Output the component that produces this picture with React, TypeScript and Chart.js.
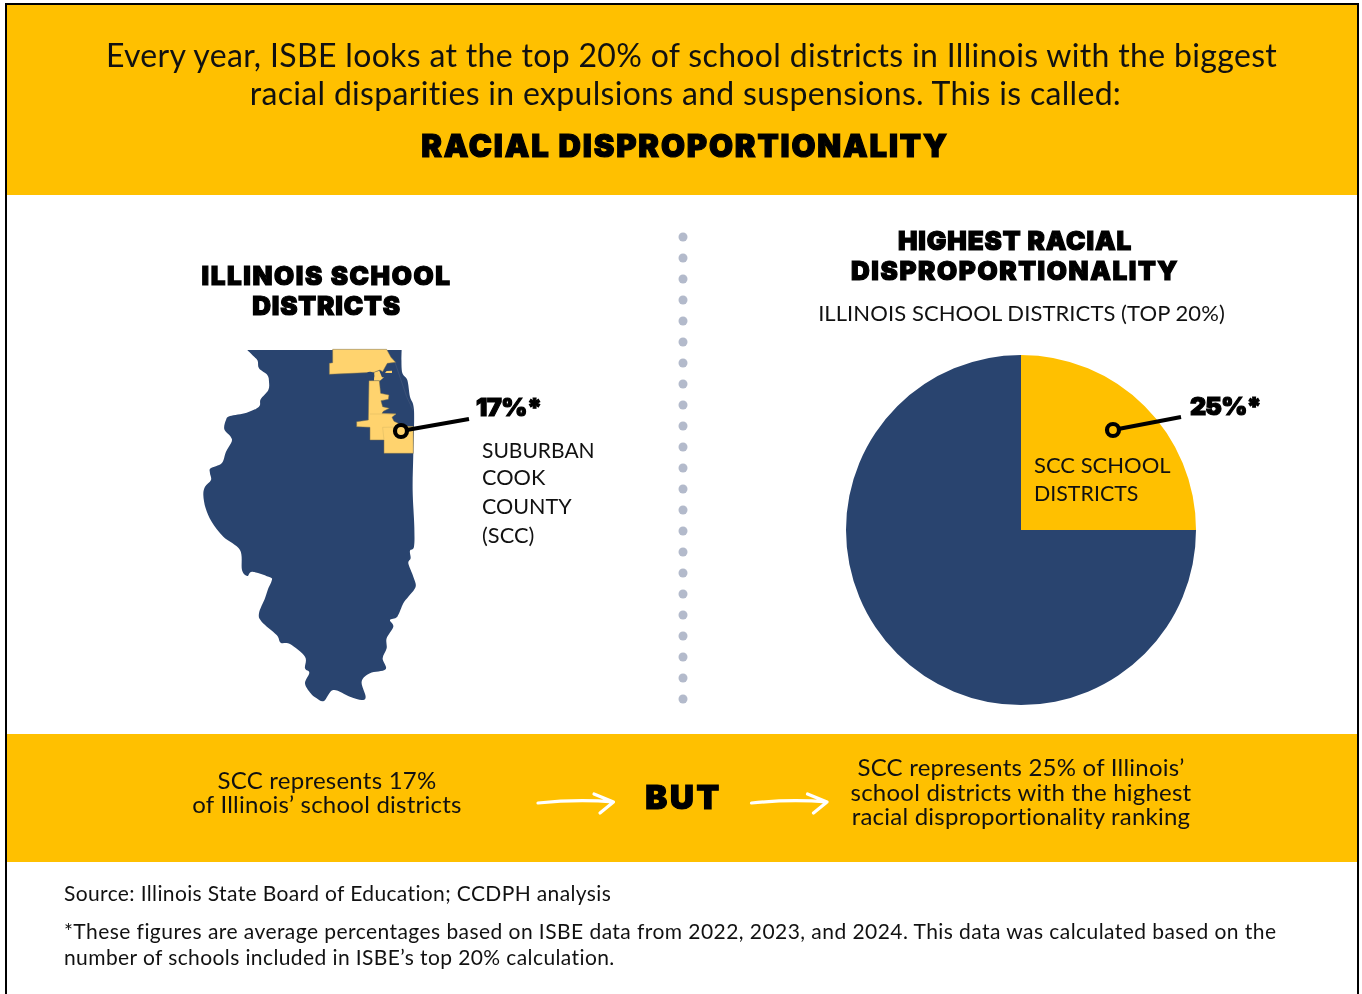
import React, { useEffect, useRef } from "react";
import { Chart, registerables } from "chart.js";

Chart.register(...registerables);

const pieLabels = ["SCC school districts", "Other Illinois school districts"];
const pieValues = [25, 75];
const pieColors = ["#FFC000", "#29446F"];

const NAVY = "#29446F";
const GOLD = "#FFC000";
const SANS = "Lato, sans-serif";
const HEAVY = "Inter, Lato, sans-serif";

const outline: number[][] = [[172,30],[172,30],[190,48],[203,62],[207,85],[232,105],[237,125],[235,150],[212,178],[207,200],[170,218],[120,228],[108,240],[103,268],[122,290],[125,305],[108,335],[95,370],[62,385],[60,400],[63,420],[45,440],[40,465],[47,505],[65,545],[100,590],[150,630],[156,690],[172,708],[187,695],[240,712],[245,722],[235,745],[225,775],[207,820],[215,845],[260,885],[272,908],[300,912],[345,950],[345,985],[358,998],[345,1030],[362,1060],[380,1075],[402,1083],[430,1050],[480,1070],[515,1080],[527,1070],[515,1025],[540,1000],[587,988],[578,955],[590,925],[590,895],[610,860],[600,840],[622,830],[640,790],[655,770],[677,740],[670,710],[655,670],[662,655],[660,632],[672,620],[673,560],[668,450],[670,340],[672,210],[660,170],[652,120],[636,95],[635,30],[635,30]];
const cookNorth: number[][] = [[428,28],[590,28],[603,52],[617,67],[592,70],[584,84],[578,95],[570,90],[552,97],[418,103],[418,70],[428,68]];
const cookMain: number[][] = [[537,122],[552,122],[568,122],[572,160],[597,165],[595,178],[573,182],[578,200],[598,205],[580,214],[576,220],[618,222],[606,232],[612,244],[625,250],[630,258],[670,260],[670,340],[582,340],[582,300],[540,300],[540,262],[500,260],[500,245],[535,240]];
const cookIslet: number[][] = [[590,93],[606,92],[606,99],[585,99]];
const cookIslet2: number[][] = [[553,96],[568,92],[576,112],[582,112],[570,122],[552,122]];

const toPoly = (p: number[][]) => p.map((q) => q.join(",")).join(" ");

const same = (a: number[], b: number[]) => a[0] === b[0] && a[1] === b[1];

function smooth(p: number[][]) {
  const n = p.length;
  const at = (i: number) => p[(i + n) % n];
  let d = `M${p[0][0]},${p[0][1]}`;
  for (let i = 0; i < n; i++) {
    const [p0, p1, p2, p3] = [at(i - 1), at(i), at(i + 1), at(i + 2)];
    const corner1 = same(p0, p1) || same(p1, p2);
    const corner2 = same(p2, p3) || same(p1, p2);
    const c1 = corner1 ? p1 : [p1[0] + (p2[0] - p0[0]) / 6, p1[1] + (p2[1] - p0[1]) / 6];
    const c2 = corner2 ? p2 : [p2[0] - (p3[0] - p1[0]) / 6, p2[1] - (p3[1] - p1[1]) / 6];
    d += `C${c1[0]},${c1[1]} ${c2[0]},${c2[1]} ${p2[0]},${p2[1]}`;
  }
  return d + "Z";
}

function T(props: { x: number; y: number; children: React.ReactNode; align?: "left" | "center"; size: number; heavy?: boolean; ls?: number; lh?: number }) {
  const { x, y, children, align = "left", size, heavy, ls = 0, lh } = props;
  return (
    <div
      style={{
        position: "absolute",
        left: x,
        top: y,
        transform: align === "center" ? "translate(-50%,-50%)" : "translateY(-50%)",
        fontFamily: heavy ? HEAVY : SANS,
        fontSize: size,
        fontWeight: heavy ? 900 : 400,
        WebkitTextStroke: heavy ? "1.2px #000" : undefined,
        letterSpacing: ls,
        color: heavy ? "#000" : "#111",
        whiteSpace: "nowrap",
        textAlign: align,
        lineHeight: lh ? `${lh}px` : 0.9,
      }}
    >
      {children}
    </div>
  );
}

const Pointer = ({ cx, cy, x2, y2, fill }: { cx: number; cy: number; x2: number; y2: number; fill: string }) => (
  <g>
    <line x1={cx} y1={cy} x2={x2} y2={y2} stroke="#000" strokeWidth={4} />
    <circle cx={cx} cy={cy} r={6} fill={fill} stroke="#000" strokeWidth={4.2} />
  </g>
);

const Arrow = ({ x }: { x: number }) => (
  <path
    d={`M${x},803 Q${x + 40},799 ${x + 75.5},802 M${x + 56},794 L${x + 75.5},802 L${x + 62},813`}
    fill="none"
    stroke="#fff"
    strokeWidth={3.2}
    strokeLinecap="round"
    strokeLinejoin="round"
  />
);

export default function App() {
  const ref = useRef<HTMLCanvasElement>(null);
  useEffect(() => {
    const chart = new Chart(ref.current!, {
      type: "pie",
      data: {
        labels: pieLabels,
        datasets: [{ data: pieValues, backgroundColor: pieColors, borderWidth: 0, hoverOffset: 0, offset: 0 }],
      },
      options: {
        animation: false,
        responsive: false,
        layout: { padding: 0 },
        plugins: { legend: { display: false }, tooltip: { enabled: false } },
      },
    });
    return () => chart.destroy();
  }, []);

  const dots = Array.from({ length: 23 }, (_, i) => 237 + i * 21);

  return (
    <div style={{ position: "absolute", left: 0, top: 0, width: 1362, height: 994, background: "#fff", overflow: "hidden" }}>
      <div style={{ position: "absolute", left: 5, top: 3, width: 1350, height: 1000, border: "2px solid #000", boxSizing: "content-box" }} />
      <div style={{ position: "absolute", left: 7, top: 5, width: 1350, height: 190, background: GOLD }} />
      <div style={{ position: "absolute", left: 7, top: 734, width: 1350, height: 128, background: GOLD }} />

      <canvas ref={ref} width={350} height={350} style={{ position: "absolute", left: 846, top: 355, display: "block" }} />

      <svg width={1362} height={994} style={{ position: "absolute", left: 0, top: 0 }}>
        {dots.map((y) => (
          <circle key={y} cx={683} cy={y} r={4.5} fill="#B3BACB" />
        ))}
        <g transform="translate(190,340) scale(0.3333)">
          <path d={smooth(outline)} fill={NAVY} />
          <polyline points="615,67 650,170 670,212" fill="none" stroke="#4A5E80" strokeWidth={1.5} />
          <polygon points={toPoly(cookIslet2)} fill="#FFD36E" />
          <polygon points={toPoly(cookNorth)} fill="#FFD36E" stroke="#7A6F4F" strokeWidth={1.5} />
          <polygon points={toPoly(cookMain)} fill="#FFD36E" stroke="#7A6F4F" strokeWidth={1.5} />
          <polygon points={toPoly(cookIslet)} fill="#FFD36E" />
          <circle cx={540} cy={108} r={13} fill={NAVY} />
          <polyline points="540,222 618,222" fill="none" stroke="#D9B862" strokeWidth={1.5} />
          <polyline points="582,300 578,262 670,260" fill="none" stroke="#D9B862" strokeWidth={1.5} />
        </g>
        <Pointer cx={401} cy={431} x2={469} y2={419} fill="#FFD36E" />
        <Pointer cx={1113} cy={430} x2={1181} y2={417} fill={GOLD} />
        <Arrow x={538} />
        <Arrow x={751.5} />
      </svg>

      <T x={691.5} y={55} align="center" size={32} ls={0.33}>Every year, ISBE looks at the top 20% of school districts in Illinois with the biggest</T>
      <T x={685.5} y={93} align="center" size={32} ls={0.31}>racial disparities in expulsions and suspensions. This is called:</T>
      <T x={685} y={146} align="center" size={31} heavy ls={1.85}>RACIAL DISPROPORTIONALITY</T>

      <T x={326.5} y={276} align="center" size={26} heavy ls={1.6}>ILLINOIS SCHOOL</T>
      <T x={326.5} y={306} align="center" size={26} heavy ls={0.85}>DISTRICTS</T>
      <T x={1015} y={241} align="center" size={26} heavy ls={0.9}>HIGHEST RACIAL</T>
      <T x={1015} y={271} align="center" size={26} heavy ls={1.6}>DISPROPORTIONALITY</T>
      <T x={1021.5} y={313} align="center" size={22} ls={0.08}>ILLINOIS SCHOOL DISTRICTS (TOP 20%)</T>

      <T x={476} y={407} size={25} heavy ls={-0.4}>17%*</T>
      <T x={482} y={450} size={21}>SUBURBAN</T>
      <T x={482} y={478} size={21.7}>COOK</T>
      <T x={482} y={507} size={21.5}>COUNTY</T>
      <T x={482} y={535} size={21.8}>(SCC)</T>

      <T x={1190} y={406} size={25} heavy ls={-0.8}>25%*</T>
      <T x={1034} y={465} size={22}>SCC SCHOOL</T>
      <T x={1034} y={494} size={21.4}>DISTRICTS</T>

      <T x={327} y={792} align="center" size={24} ls={0.24} lh={24}>
        SCC represents 17%
        <br />
        of Illinois’ school districts
      </T>
      <T x={683.5} y={798} align="center" size={33} heavy ls={2.6}>BUT</T>
      <T x={1021} y={792} align="center" size={24} ls={0.23} lh={24.5}>
        SCC represents 25% of Illinois’
        <br />
        school districts with the highest
        <br />
        racial disproportionality ranking
      </T>

      <T x={64} y={893} size={21} ls={0.37}>Source: Illinois State Board of Education; CCDPH analysis</T>
      <T x={64} y={931} size={21} ls={0.44}>*These figures are average percentages based on ISBE data from 2022, 2023, and 2024. This data was calculated based on the</T>
      <T x={64} y={957} size={21} ls={0.4}>number of schools included in ISBE’s top 20% calculation.</T>
    </div>
  );
}
